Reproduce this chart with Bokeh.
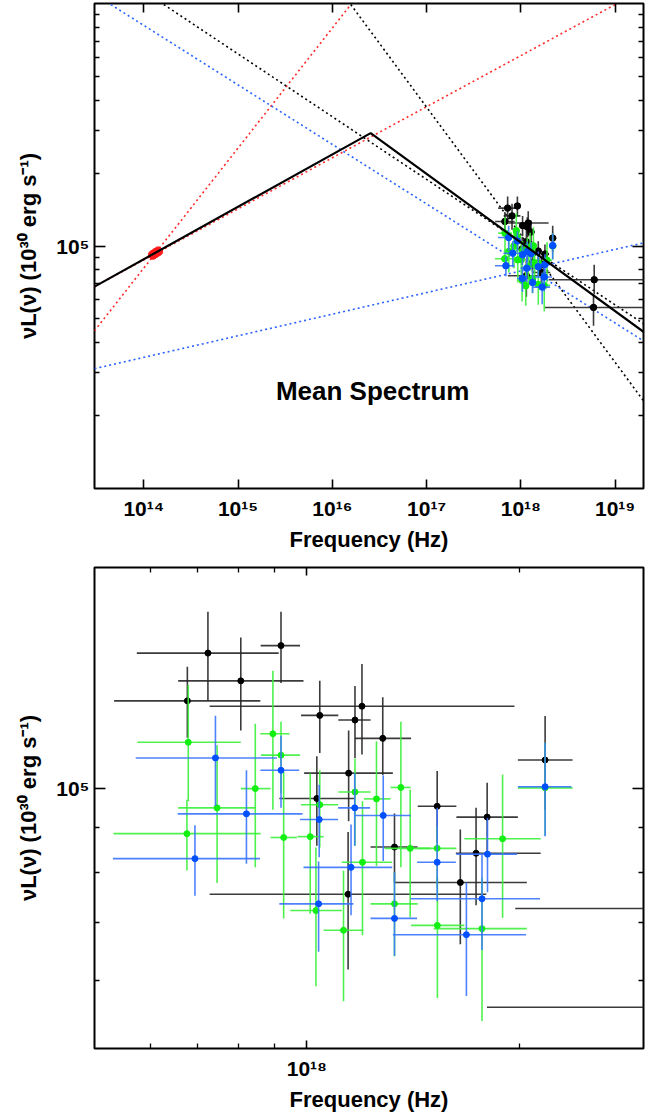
import numpy as np
from bokeh.plotting import figure
from bokeh.layouts import column
from bokeh.models import FixedTicker, LogAxis, CustomJSTickFormatter
from bokeh.core.properties import value
from bokeh.embed import file_html
from bokeh.resources import INLINE

# ---------------- data (frequency in 1e18 Hz, nuL(nu) in 1e5 x 1e30 erg/s) ----------------
blk_nu   = [0.724, 0.806, 0.677, 0.919, 1.043, 1.170, 1.197, 1.281, 1.146, 1.033, 1.331, 1.144, 1.530, 1.650, 1.737, 1.801, 2.176, 6.0, 5.9]
blk_nulo = [0.574, 0.657, 0.533, 0.860, 0.981, 1.108, 0.728, 1.170, 0.991, 0.914, 1.231, 0.728, 1.436, 1.328, 1.626, 1.629, 1.991, 1.974, 1.800]
blk_nuhi = [0.912, 0.989, 0.859, 0.978, 1.108, 1.231, 1.969, 1.405, 1.324, 1.166, 1.435, 1.796, 1.629, 2.050, 2.145, 1.991, 2.380, 25.0, 25.0]
blk_L    = [1.433, 1.331, 1.262, 1.462, 1.214, 1.199, 1.244, 1.142, 1.041, 0.973, 0.855, 0.754, 0.953, 0.778, 0.841, 0.926, 1.078, 0.726, 0.558]
blk_Llo  = [1.262, 1.166, 1.144, 1.323, 1.098, 1.084, 1.094, 1.036, 0.916, 0.858, 0.778, 0.617, 0.865, 0.660, 0.732, 0.840, 0.944, 0.634, 0.469]
blk_Lhi  = [1.600, 1.494, 1.382, 1.600, 1.331, 1.313, 1.392, 1.274, 1.166, 1.089, 0.935, 0.890, 1.047, 0.896, 0.949, 1.015, 1.212, 0.836, 0.634]

grn_nu   = [0.679, 0.676, 0.746, 0.845, 0.895, 0.919, 0.927, 1.011, 1.043, 1.030, 1.127, 1.170, 1.199, 1.255, 1.359, 1.331, 1.401, 1.530, 1.531, 1.894, 1.771, 2.176]
grn_nulo = [0.575, 0.532, 0.657, 0.806, 0.859, 0.861, 0.888, 0.970, 0.981, 0.947, 1.056, 1.108, 1.121, 1.205, 1.314, 1.231, 1.289, 1.436, 1.405, 1.672, 1.513, 1.991]
grn_nuhi = [0.806, 0.860, 0.846, 0.888, 0.945, 0.978, 0.968, 1.056, 1.108, 1.121, 1.202, 1.231, 1.321, 1.314, 1.403, 1.436, 1.497, 1.629, 1.672, 2.145, 2.050, 2.380]
grn_L    = [1.130, 0.886, 0.949, 0.999, 1.156, 1.092, 0.877, 0.879, 0.957, 0.722, 0.685, 0.990, 0.821, 0.972, 1.002, 0.735, 0.852, 0.852, 0.694, 0.874, 0.688, 1.001]
grn_Llo  = [0.966, 0.803, 0.777, 0.810, 0.944, 0.987, 0.707, 0.716, 0.854, 0.590, 0.567, 0.858, 0.676, 0.813, 0.810, 0.639, 0.709, 0.770, 0.572, 0.708, 0.538, 0.881]
grn_Lhi  = [1.317, 0.970, 1.121, 1.187, 1.367, 1.194, 1.045, 1.040, 1.049, 0.854, 0.803, 1.082, 0.966, 1.133, 1.194, 0.799, 0.996, 0.905, 0.789, 1.037, 0.789, 1.129]

blu_nu   = [0.742, 0.821, 0.694, 0.919, 1.041, 1.039, 1.169, 1.155, 1.283, 1.331, 1.530, 1.683, 1.771, 1.803, 2.176]
blu_nulo = [0.572, 0.656, 0.531, 0.859, 0.978, 0.914, 1.107, 0.989, 1.170, 1.231, 1.433, 1.324, 1.403, 1.629, 1.991]
blu_nuhi = [0.907, 0.986, 0.858, 0.975, 1.107, 1.164, 1.229, 1.321, 1.403, 1.433, 1.626, 2.045, 2.140, 1.985, 2.371]
blu_L    = [1.084, 0.934, 0.829, 1.049, 0.920, 0.735, 0.949, 0.810, 0.930, 0.707, 0.821, 0.677, 0.745, 0.839, 1.004]
blu_Llo  = [0.954, 0.818, 0.751, 0.949, 0.832, 0.647, 0.858, 0.713, 0.824, 0.640, 0.740, 0.575, 0.650, 0.758, 0.880]
blu_Lhi  = [1.213, 1.049, 0.906, 1.150, 1.009, 0.823, 1.040, 0.908, 1.035, 0.799, 0.949, 0.778, 0.839, 0.924, 1.129]

# optical/IR points (Hz, units of 1e30 erg/s)
red_nu = [1.25e14, 1.33e14, 1.42e14]
red_L  = [9.2e4, 9.35e4, 9.5e4]

# model components (Hz, 1e30 erg/s)
broken_nu = [3.0e13, 2.55e16, 2.0e19]
broken_L  = [6.8e4, 2.92e5, 4.43e4]
red_shallow_nu = [3.0e13, 1.0e19]
red_shallow_L  = [6.8e4, 9.9e5]
red_steep_nu = [3.0e13, 1.57e16]
red_steep_L  = [4.47e4, 9.9e5]
blk_steep_nu = [1.57e16, 2.0e19]
blk_steep_L  = [9.9e5, 2.30e4]
blk_shallow_nu = [1.63e14, 2.0e19]
blk_shallow_L  = [9.9e5, 4.78e4]
blu_steep_nu = [4.47e13, 2.0e19]
blu_steep_L  = [9.9e5, 4.06e4]
blu_shallow_nu = [3.0e13, 2.0e19]
blu_shallow_L  = [3.12e4, 1.03e5]

# axis ticks
top_xticks = [1e14, 1e15, 1e16, 1e17, 1e18, 1e19]
top_yticks = [1e5]
top_yminor = [2e4, 3e4, 4e4, 5e4, 6e4, 7e4, 8e4, 9e4, 2e5, 3e5, 4e5, 5e5, 6e5, 7e5, 8e5, 9e5]
bot_xticks = [1e18]
bot_xminor = [6e17, 7e17, 8e17, 9e17, 2e18]
bot_yticks = [1e5]
bot_yminor = [6e4, 7e4, 8e4, 9e4]

mean_label = "Mean Spectrum"
mean_label_nu = 2.68e16
mean_label_L = 2.53e4

x_title = "Frequency (Hz)"
y_title = "\u03bdL(\u03bd) (10\u00b3\u2070 erg s\u207b\u00b9)"

FONT = "Liberation Sans"
FMT = """
const s = {'0':'\u2070','1':'\u00b9','2':'\u00b2','3':'\u00b3','4':'\u2074','5':'\u2075','6':'\u2076','7':'\u2077','8':'\u2078','9':'\u2079','-':'\u207b'};
const e = Math.round(Math.log10(tick));
return '10' + String(e).split('').map(c => s[c]).join('');
"""

XF = 1e18
YF = 1e5
series = [
    (blk_nu, blk_nulo, blk_nuhi, blk_L, blk_Llo, blk_Lhi, "black", "#262626"),
    (grn_nu, grn_nulo, grn_nuhi, grn_L, grn_Llo, grn_Lhi, "#12f012", "#3cf03c"),
    (blu_nu, blu_nulo, blu_nuhi, blu_L, blu_Llo, blu_Lhi, "#0050ff", "#3a74ff"),
]


def style_axis(ax, major_in, minor_in, labels):
    ax.axis_line_color = None
    ax.major_tick_in = major_in
    ax.major_tick_out = 0
    ax.minor_tick_in = minor_in
    ax.minor_tick_out = 0
    ax.major_tick_line_color = "black"
    ax.major_tick_line_width = 1.6
    ax.minor_tick_line_color = "black"
    ax.minor_tick_line_width = 1.3
    if labels:
        ax.formatter = CustomJSTickFormatter(code=FMT)
        ax.major_label_text_font = FONT
        ax.major_label_text_font_size = "21px"
        ax.major_label_text_font_style = "bold"
        ax.major_label_text_color = "black"
        ax.axis_label_text_font = FONT
        ax.axis_label_text_font_size = "22px"
        ax.axis_label_text_font_style = "bold"
        ax.axis_label_text_color = "black"
    else:
        ax.formatter = CustomJSTickFormatter(code="return '';")
        ax.major_label_text_font_size = "0px"
        ax.major_label_standoff = 0


def make_fig(xr, yr, xt, xm, yt, ym, xin, xmin_in, height, mb_top, mb_bottom):
    p = figure(width=652, height=height, x_axis_type="log", y_axis_type="log",
               x_range=xr, y_range=yr, output_backend="svg", toolbar_location=None,
               min_border_left=94, min_border_right=9, min_border_top=mb_top,
               min_border_bottom=mb_bottom)
    p.xgrid.visible = False
    p.ygrid.visible = False
    p.background_fill_color = "white"
    p.border_fill_color = "white"
    p.outline_line_color = "black"
    p.outline_line_width = 2
    p.outline_line_alpha = 1.0
    bx = p.below[0]
    bx.ticker = FixedTicker(ticks=xt, minor_ticks=xm)
    style_axis(bx, xin, xmin_in, True)
    bx.axis_label = x_title
    bx.major_label_standoff = 8
    bx.axis_label_standoff = 4
    ly = p.left[0]
    ly.ticker = FixedTicker(ticks=yt, minor_ticks=ym)
    style_axis(ly, 11, 5, True)
    ly.axis_label = y_title
    ly.major_label_standoff = 5
    ly.axis_label_standoff = 12
    tx = LogAxis(ticker=FixedTicker(ticks=xt, minor_ticks=xm))
    style_axis(tx, xin, xmin_in, False)
    p.add_layout(tx, "above")
    ry = LogAxis(ticker=FixedTicker(ticks=yt, minor_ticks=ym))
    style_axis(ry, 11, 5, False)
    p.add_layout(ry, "right")
    return p


def draw_data(p, size):
    for nu, nlo, nhi, L, Llo, Lhi, mc, lc in series:
        nu = np.array(nu) * XF
        nlo = np.array(nlo) * XF
        nhi = np.array(nhi) * XF
        L = np.array(L) * YF
        Llo = np.array(Llo) * YF
        Lhi = np.array(Lhi) * YF
        p.segment(x0=nlo, y0=L, x1=nhi, y1=L, line_color=lc, line_width=1.6, line_alpha=0.9)
        p.segment(x0=nu, y0=Llo, x1=nu, y1=Lhi, line_color=lc, line_width=1.6, line_alpha=0.9)
        p.scatter(nu, L, size=size, marker="circle", fill_color=mc, line_color=mc)


# ---------------- top panel ----------------
p1 = make_fig((3.0e13, 2.0e19), (1e4, 1e6), top_xticks, [], top_yticks, top_yminor,
              9, 0, 558, 3, 70)
dot = dict(line_width=1.6, line_dash="2 3")
p1.line(red_shallow_nu, red_shallow_L, line_color="#ff2b2b", **dot)
p1.line(red_steep_nu, red_steep_L, line_color="#ff2b2b", **dot)
p1.line(blk_steep_nu, blk_steep_L, line_color="black", **dot)
p1.line(blk_shallow_nu, blk_shallow_L, line_color="black", **dot)
p1.line(blu_steep_nu, blu_steep_L, line_color="#2a62ff", **dot)
p1.line(blu_shallow_nu, blu_shallow_L, line_color="#2a62ff", **dot)
draw_data(p1, 6.5)
p1.scatter(red_nu, red_L, size=9, marker="circle", fill_color="#ff1a1a", line_color="#ff1a1a")
p1.line(broken_nu, broken_L, line_color="black", line_width=2.2)
p1.text(x=[mean_label_nu], y=[mean_label_L], text=[mean_label], text_font=value(FONT),
        text_font_size="26px", text_font_style="bold", text_align="center",
        text_baseline="middle", text_color="black")

# ---------------- bottom panel ----------------
p2 = make_fig((5.0e17, 3.0e18), (5.0e4, 1.8e5), bot_xticks, bot_xminor, bot_yticks, bot_yminor,
              8, 5, 556, 9, 62)
draw_data(p2, 6)

layout = column(p1, p2, spacing=0)
open("out.html", "w").write(file_html(layout, INLINE))
